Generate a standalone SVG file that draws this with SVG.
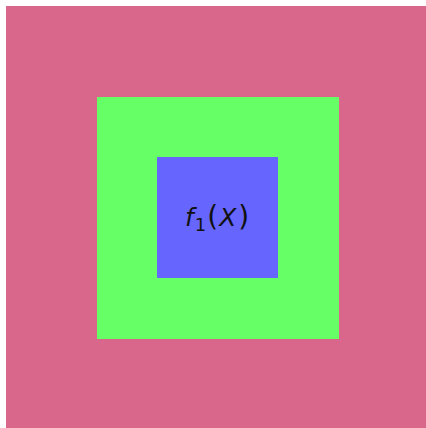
<svg xmlns="http://www.w3.org/2000/svg" width="426" height="428" viewBox="0 0 426 428">
<style>
.t{font-family:"DejaVu Sans",sans-serif;font-size:25px;fill:#111}
.i{font-style:italic}
.p{font-size:28px}
</style>
<rect width="426" height="428" fill="#ffffff"/>
<g id="outer"><rect x="6" y="6" width="420" height="422" fill="#d9668b"/></g>
<g id="middle"><rect x="97" y="97" width="242" height="242" fill="#66ff66"/></g>
<g id="inner"><rect x="157" y="157" width="121" height="121" fill="#6666ff"/>
<text class="t" x="185" y="226"><tspan class="i">f</tspan><tspan font-size="18" dx="1" dy="5">1</tspan><tspan class="p" dx="1" dy="-5">(</tspan><tspan class="i" dx="1">X</tspan><tspan class="p" dx="2">)</tspan></text>
</g>
<g id="connectors"/>
</svg>
